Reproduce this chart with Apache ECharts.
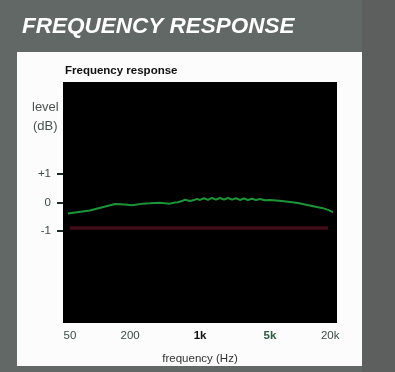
<!DOCTYPE html>
<html>
<head>
<meta charset="utf-8">
<script src="https://cdn.jsdelivr.net/npm/echarts@6/dist/echarts.min.js"></script>
<style>html,body{margin:0;padding:0;background:#616866;}#c{width:395px;height:372px;}</style>
</head>
<body>
<div id="c"></div>
<script>
var freqs = [47.7, 79, 141, 177, 208, 269, 315, 397, 500, 561, 601, 659, 706, 792, 889, 933, 998, 1094, 1200, 1315, 1442, 1581, 1733, 1900, 2083, 2284, 2504, 2745, 3010, 3300, 3618, 3967, 4456, 5000, 5740, 6590, 7924, 9527, 11200, 13160, 15110, 16570, 19020, 21340];
var levels = [-0.39, -0.28, -0.05, -0.07, -0.10, -0.04, -0.03, -0.01, -0.04, 0.00, 0.01, 0.05, 0.10, 0.05, 0.10, 0.13, 0.09, 0.15, 0.09, 0.16, 0.10, 0.16, 0.10, 0.16, 0.10, 0.15, 0.09, 0.14, 0.09, 0.13, 0.09, 0.12, 0.08, 0.09, 0.07, 0.05, 0.02, -0.02, -0.07, -0.12, -0.17, -0.19, -0.26, -0.34];
var refFreqs = [50, 19000];
var refLevels = [-0.9, -0.9];
var xTicks = [50, 200, 1000, 5000, 20000];
var xTickLabels = ['50', '200', '1k', '5k', '20k'];
var yTicks = [-1, 0, 1];
var yTickLabels = ['-1', '0', '+1'];

var chart = echarts.init(document.getElementById('c'), null, {renderer: 'canvas'});
chart.setOption({
  backgroundColor: '#616866',
  animation: false,
  graphic: [
    {type: 'rect', shape: {x: 362, y: 0, width: 33, height: 372}, style: {fill: '#5c5f5e'}, z: -11},
    {type: 'rect', shape: {x: 17, y: 52, width: 345, height: 314}, style: {fill: '#fbfcfb'}, z: -10},
    {type: 'text', left: 22, top: 15, style: {text: 'FREQUENCY RESPONSE', fill: '#ffffff', font: 'italic bold 22.5px "Liberation Sans", Arial, sans-serif'}},
    {type: 'text', left: 65, top: 65, style: {text: 'Frequency response', fill: '#111111', font: 'bold 11.5px "Liberation Sans", Arial, sans-serif'}},
    {type: 'text', left: 32, top: 101, style: {text: 'level', fill: '#4a524f', font: '13px "Liberation Sans", Arial, sans-serif'}},
    {type: 'text', left: 33, top: 120, style: {text: '(dB)', fill: '#4a524f', font: '13px "Liberation Sans", Arial, sans-serif'}}
  ],
  grid: {left: 63, top: 82, width: 274, height: 241, show: true, backgroundColor: '#000000', borderWidth: 0},
  xAxis: {
    type: 'log', min: 42.6, max: 23400,
    name: 'frequency (Hz)', nameLocation: 'middle', nameGap: 30,
    nameTextStyle: {color: '#333333', fontSize: 11.5, fontFamily: 'Liberation Sans'},
    axisLine: {show: false}, axisTick: {show: false}, splitLine: {show: false}, minorTick: {show: false},
    axisLabel: {
      customValues: xTicks, margin: 7, color: '#3e4c46', fontSize: 11.5, fontFamily: 'Liberation Sans',
      formatter: function (v) {
        var i = xTicks.indexOf(Math.round(v));
        if (i < 0) return '';
        if (xTickLabels[i] === '1k') return '{b|1k}';
        if (xTickLabels[i] === '5k') return '{g|5k}';
        return xTickLabels[i];
      },
      rich: {
        b: {color: '#111111', fontWeight: 'bold', fontSize: 11.5, fontFamily: 'Liberation Sans'},
        g: {color: '#2f5a44', fontWeight: 'bold', fontSize: 11.5, fontFamily: 'Liberation Sans'}
      }
    }
  },
  yAxis: {
    type: 'value', min: -4.25, max: 4.25,
    axisLine: {show: false}, splitLine: {show: false},
    axisTick: {show: true, customValues: yTicks, length: 6, lineStyle: {color: '#1c2a24', width: 2}},
    axisLabel: {
      customValues: yTicks, margin: 12, color: '#3e4c46', fontSize: 11.5, fontFamily: 'Liberation Sans',
      formatter: function (v) { var i = yTicks.indexOf(Math.round(v)); return i >= 0 ? yTickLabels[i] : ''; }
    }
  },
  series: [
    {type: 'line', data: refFreqs.map(function (f, i) { return [f, refLevels[i]]; }), symbol: 'none',
     lineStyle: {color: '#3f0c18', width: 3.5}},
    {type: 'line', data: freqs.map(function (f, i) { return [f, levels[i]]; }), symbol: 'none',
     lineStyle: {color: '#1e9438', width: 2}}
  ]
});
</script>
</body>
</html>
